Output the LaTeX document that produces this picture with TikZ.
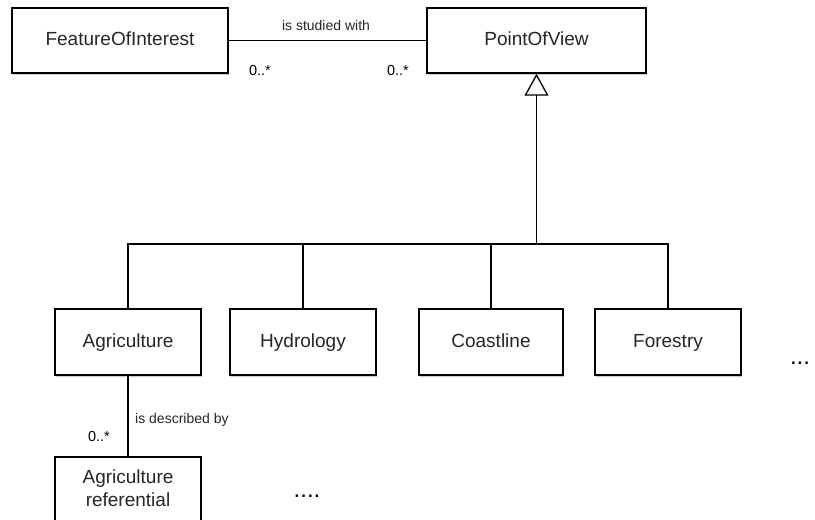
\documentclass[tikz,border=0pt]{standalone}
\usepackage{fontspec}
\setmainfont{Liberation Sans}
\usetikzlibrary{arrows.meta,shadows}
\begin{document}
\begin{tikzpicture}[x=1pt,y=-1pt,
  cls/.style={draw=black, line width=1.4pt, fill=white, inner sep=0pt,
    font=\fontsize{19}{23}\selectfont, text=black!85, text height=14pt, text depth=4pt,
    drop shadow={shadow xshift=0.8pt, shadow yshift=-2.2pt, opacity=0.35, fill=black!60}},
  conn/.style={draw=black, line width=1.3pt},
  lbl/.style={font=\fontsize{14}{16}\selectfont, text=black!85, inner sep=0pt},
  mult/.style={font=\fontsize{14.5}{16}\selectfont, text=black, inner sep=0pt},
  dots/.style={font=\fontsize{24}{26}\selectfont, text=black, inner sep=0pt}]
\clip (0,0) rectangle (815,520);
\fill[white] (0,0) rectangle (815,520);
% classes
\node[cls, minimum width=216pt, minimum height=65pt] (foi) at (120,40.5) {FeatureOfInterest};
\node[cls, minimum width=219pt, minimum height=65pt] (pov) at (536.5,40.5) {PointOfView};
\node[cls, minimum width=146pt, minimum height=66pt] (agri) at (128,342) {Agriculture};
\node[cls, minimum width=146pt, minimum height=66pt] (hydro) at (303,342) {Hydrology};
\node[cls, minimum width=144pt, minimum height=66pt] (coast) at (491,342) {Coastline};
\node[cls, minimum width=146pt, minimum height=66pt] (forest) at (668,342) {Forestry};
\node[cls, minimum width=146pt, minimum height=66pt, align=center, text height=37pt, text depth=4pt] (agriref) at (128,490) {Agriculture\\referential};
% association
\draw[conn] (foi.east) -- (pov.west);
\node[lbl] (studied) at (326,25) {is studied with};
\node[mult] (m1) at (260,71) {0..*};
\node[mult] (m2) at (398,71) {0..*};
% generalization
\coordinate (bus) at (536.5,244);
\draw[conn] (agri.north) |- (bus);
\draw[conn] (forest.north) |- (bus);
\draw[conn] (hydro.north) -- (hydro.north |- bus);
\draw[conn] (coast.north) -- (coast.north |- bus);
\draw[conn, -{Triangle[open, length=22pt, width=24pt, line width=1.3pt]}] (bus) -- (pov.south);
% described by
\draw[conn] (agri.south) -- (agriref.north);
\node[lbl, anchor=west] (descr) at (135,420) {is described by};
\node[mult] (m3) at (99,437) {0..*};
% ellipses
\node[dots] (more1) at (800,363) {...};
\node[dots] (more2) at (307,496) {....};
\end{tikzpicture}
\end{document}
